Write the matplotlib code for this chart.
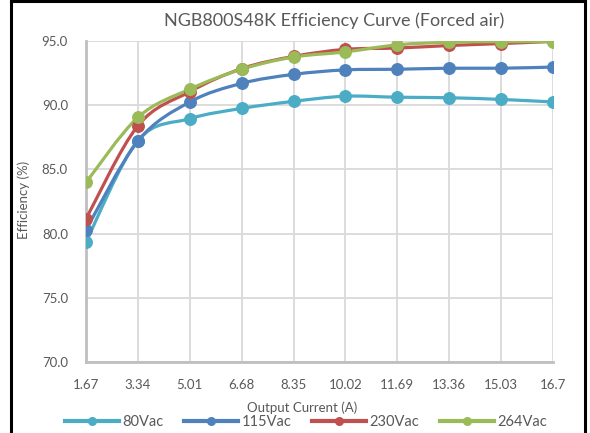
import matplotlib.pyplot as plt
import numpy as np
from matplotlib.path import Path
from matplotlib.patches import PathPatch
from matplotlib.lines import Line2D

plt.rcParams['font.family'] = ['Lato', 'DejaVu Sans']

currents = ["1.67", "3.34", "5.01", "6.68", "8.35", "10.02", "11.69", "13.36", "15.03", "16.7"]
eff_80 = [79.35, 87.25, 88.95, 89.75, 90.3, 90.7, 90.62, 90.58, 90.45, 90.25]
eff_115 = [80.3, 87.2, 90.25, 91.7, 92.4, 92.75, 92.8, 92.88, 92.88, 92.97]
eff_230 = [81.15, 88.4, 91.05, 92.85, 93.8, 94.35, 94.45, 94.65, 94.8, 94.97]
eff_264 = [83.98, 89.05, 91.25, 92.8, 93.75, 94.15, 94.7, 94.9, 94.95, 94.95]

series = [("80Vac", eff_80, "#4bacc6"),
          ("115Vac", eff_115, "#4f81bd"),
          ("230Vac", eff_230, "#c0504d"),
          ("264Vac", eff_264, "#9bbb59")]


def smooth_path(x, y):
    """Bezier path through the points, like Excel's smoothed line"""
    pts = np.column_stack([x, y])
    verts = [pts[0]]
    codes = [Path.MOVETO]
    n = len(pts)
    for i in range(n - 1):
        p0 = pts[max(i - 1, 0)]
        p1 = pts[i]
        p2 = pts[i + 1]
        p3 = pts[min(i + 2, n - 1)]
        c1 = p1 + (p2 - p0) / 6.0
        c2 = p2 - (p3 - p1) / 6.0
        verts += [c1, c2, p2]
        codes += [Path.CURVE4] * 3
    return Path(verts, codes)


W, H = 590, 433
fig = plt.figure(figsize=(W / 100, H / 100), dpi=100)
ax = fig.add_axes([86 / W, 1 - 362 / H, (553 - 86) / W, (362 - 41) / H])

x = np.arange(len(currents))
for name, vals, color in series:
    patch = PathPatch(smooth_path(x, vals), facecolor="none", edgecolor=color,
                      lw=2.3, zorder=3, capstyle="round")
    ax.add_patch(patch)
    ax.plot(x, vals, "o", color=color, ms=8.3, zorder=4)

ax.set_xlim(0, len(currents) - 1)
ax.set_ylim(70, 95)
ax.set_xticks(x)
ax.set_xticklabels(currents)
ax.set_yticks(np.arange(70, 96, 5))
ax.set_yticklabels(["{:.1f}".format(v) for v in np.arange(70, 96, 5)])
ax.grid(True, color="#d9d9d9", lw=1.3)
ax.set_axisbelow(True)
for side in ["top", "right"]:
    ax.spines[side].set_visible(False)
for side in ["left", "bottom"]:
    ax.spines[side].set_color("#bfbfbf")
    ax.spines[side].set_linewidth(2)
ax.tick_params(length=0, labelsize=9.5, colors="#595959")
ax.tick_params(axis="y", pad=13)
ax.tick_params(axis="x", pad=12)

fig.text(334 / W, 1 - 21 / H, "NGB800S48K Efficiency Curve (Forced air)",
         fontsize=13, color="#595959", ha="center", va="center")
fig.text(302 / W, 1 - 408 / H, "Output Current (A)", fontsize=9.5,
         color="#595959", ha="center", va="center")
fig.text(24 / W, 1 - 200 / H, "Efficiency (%)", fontsize=9.5, rotation=90,
         color="#595959", ha="center", va="center")

handles = [Line2D([], [], color=c, lw=3, marker="o", ms=5.5) for _, _, c in series]
fig.legend(handles, [s[0] for s in series], loc="center", ncol=4,
           bbox_to_anchor=(306 / W, 1 - 422 / H), frameon=False, fontsize=10.5,
           handlelength=3.7, columnspacing=1.4, handletextpad=0.25,
           labelcolor="#595959", borderpad=0, borderaxespad=0)

# black frame around the chart
for xs, ys in [([11, 11], [0, 433]), ([11, 585], [1, 1]), ([585, 585], [0, 433])]:
    fig.add_artist(Line2D(np.array(xs) / W, 1 - np.array(ys) / H,
                          color="black", lw=2.2, transform=fig.transFigure))

fig.savefig("out.png", dpi=100)
